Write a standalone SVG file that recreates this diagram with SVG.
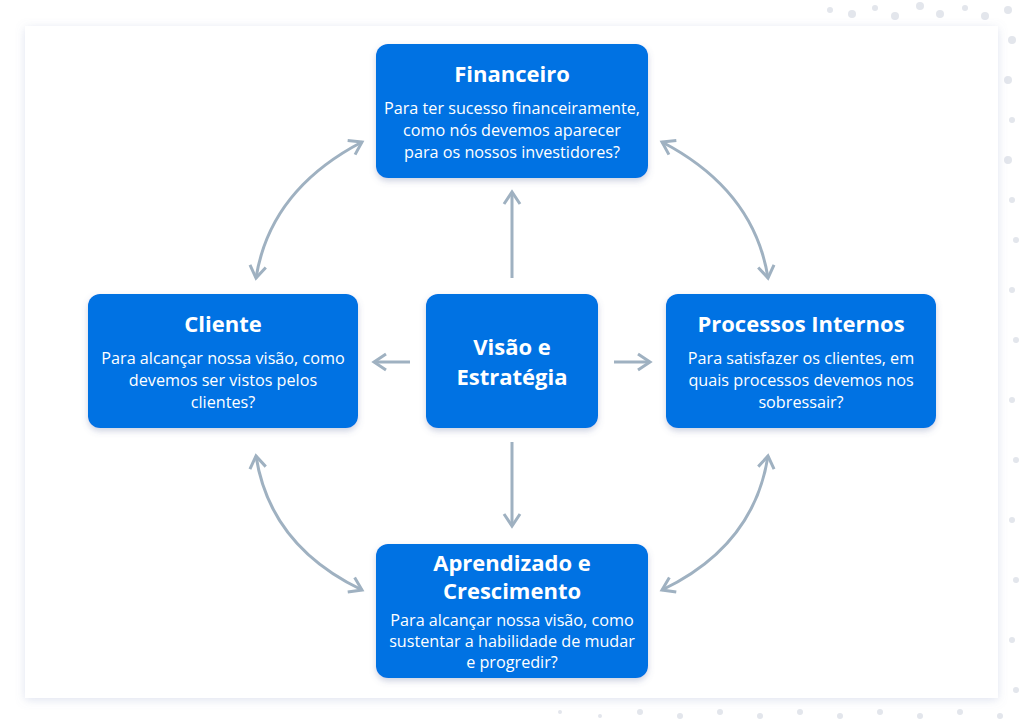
<svg xmlns="http://www.w3.org/2000/svg" width="1024" height="725" viewBox="0 0 1024 725">
<defs>
<style>
.box{fill:#0672e3;}
.t{font-family:"Open Sans","Noto Sans",sans-serif;fill:#fff;text-anchor:middle;}
.h{font-weight:bold;font-size:22px;}
.b{font-size:16.2px;}
.c{fill:none;stroke:#9fb1c1;stroke-width:3;}
.d{fill:#e3e6ec;}
</style>
<marker id="m" viewBox="0 0 20 20" refX="17" refY="10" markerWidth="20" markerHeight="20" orient="auto-start-reverse" markerUnits="userSpaceOnUse">
<path d="M5 2 L17 10 L5 18" fill="none" stroke="#9fb1c1" stroke-width="3"/>
</marker>
<filter id="s" x="-10%" y="-10%" width="120%" height="130%"><feDropShadow dx="0" dy="3" stdDeviation="3" flood-color="#5a6a9a" flood-opacity="0.3"/></filter>
<filter id="ps" x="-5%" y="-5%" width="110%" height="110%"><feDropShadow dx="0" dy="2" stdDeviation="5" flood-color="#8090c0" flood-opacity="0.25"/></filter>
</defs>
<rect width="1024" height="725" fill="#fff"/>
<g id="dots">
<circle class="d" cx="830" cy="10" r="3"/><circle class="d" cx="852" cy="14" r="4"/><circle class="d" cx="875" cy="8" r="3"/><circle class="d" cx="895" cy="16" r="4"/><circle class="d" cx="920" cy="6" r="4"/><circle class="d" cx="940" cy="14" r="4"/><circle class="d" cx="965" cy="8" r="3"/><circle class="d" cx="985" cy="16" r="4"/><circle class="d" cx="1008" cy="10" r="4"/>
<circle class="d" cx="1012" cy="40" r="4"/><circle class="d" cx="1008" cy="80" r="4"/><circle class="d" cx="1012" cy="120" r="3"/><circle class="d" cx="1008" cy="160" r="4"/><circle class="d" cx="1012" cy="200" r="3"/><circle class="d" cx="1016" cy="240" r="3"/><circle class="d" cx="1012" cy="290" r="3"/><circle class="d" cx="1016" cy="340" r="3"/><circle class="d" cx="1012" cy="400" r="3"/><circle class="d" cx="1016" cy="460" r="3"/><circle class="d" cx="1012" cy="520" r="3"/><circle class="d" cx="1016" cy="580" r="3"/><circle class="d" cx="1012" cy="640" r="3"/><circle class="d" cx="1016" cy="690" r="3"/>
<circle class="d" cx="560" cy="712" r="2"/><circle class="d" cx="600" cy="716" r="2"/><circle class="d" cx="640" cy="712" r="3"/><circle class="d" cx="680" cy="716" r="3"/><circle class="d" cx="720" cy="712" r="3"/><circle class="d" cx="760" cy="716" r="3"/><circle class="d" cx="800" cy="712" r="3"/><circle class="d" cx="840" cy="716" r="3"/><circle class="d" cx="880" cy="712" r="3"/><circle class="d" cx="920" cy="716" r="3"/><circle class="d" cx="960" cy="712" r="3"/><circle class="d" cx="1000" cy="716" r="3"/>
</g>
<rect id="panel" x="25" y="26" width="973" height="672" fill="#fff" filter="url(#ps)"/>
<g id="connectors">
<line class="c" x1="512" y1="278" x2="512" y2="192" marker-end="url(#m)"/>
<line class="c" x1="512" y1="442" x2="512" y2="526" marker-end="url(#m)"/>
<line class="c" x1="410" y1="362" x2="374" y2="362" marker-end="url(#m)"/>
<line class="c" x1="614" y1="362" x2="650" y2="362" marker-end="url(#m)"/>
<path class="c" d="M362 142 Q270 190 256 278" marker-start="url(#m)" marker-end="url(#m)"/>
<path class="c" d="M662 142 Q754 190 768 278" marker-start="url(#m)" marker-end="url(#m)"/>
<path class="c" d="M256 456 Q270 546 362 590" marker-start="url(#m)" marker-end="url(#m)"/>
<path class="c" d="M768 456 Q754 546 662 590" marker-start="url(#m)" marker-end="url(#m)"/>
</g>
<g id="financeiro">
<rect class="box" x="376" y="44" width="272" height="134" rx="12" filter="url(#s)"/>
<text class="t h" x="512" y="82">Financeiro</text>
<text class="t b" x="512" y="114">Para ter sucesso financeiramente,</text>
<text class="t b" x="512" y="136">como nós devemos aparecer</text>
<text class="t b" x="512" y="158">para os nossos investidores?</text>
</g>
<g id="cliente">
<rect class="box" x="88" y="294" width="270" height="134" rx="12" filter="url(#s)"/>
<text class="t h" x="223" y="332">Cliente</text>
<text class="t b" x="223" y="364">Para alcançar nossa visão, como</text>
<text class="t b" x="223" y="386">devemos ser vistos pelos</text>
<text class="t b" x="223" y="408">clientes?</text>
</g>
<g id="visao">
<rect class="box" x="426" y="294" width="172" height="134" rx="12" filter="url(#s)"/>
<text class="t h" x="512" y="355">Visão e</text>
<text class="t h" x="512" y="385">Estratégia</text>
</g>
<g id="processos">
<rect class="box" x="666" y="294" width="270" height="134" rx="12" filter="url(#s)"/>
<text class="t h" x="801" y="332">Processos Internos</text>
<text class="t b" x="801" y="364">Para satisfazer os clientes, em</text>
<text class="t b" x="801" y="386">quais processos devemos nos</text>
<text class="t b" x="801" y="408">sobressair?</text>
</g>
<g id="aprendizado">
<rect class="box" x="376" y="544" width="272" height="134" rx="12" filter="url(#s)"/>
<text class="t h" x="512" y="571">Aprendizado e</text>
<text class="t h" x="512" y="599">Crescimento</text>
<text class="t b" x="512" y="626">Para alcançar nossa visão, como</text>
<text class="t b" x="512" y="647">sustentar a habilidade de mudar</text>
<text class="t b" x="512" y="668">e progredir?</text>
</g>
</svg>
